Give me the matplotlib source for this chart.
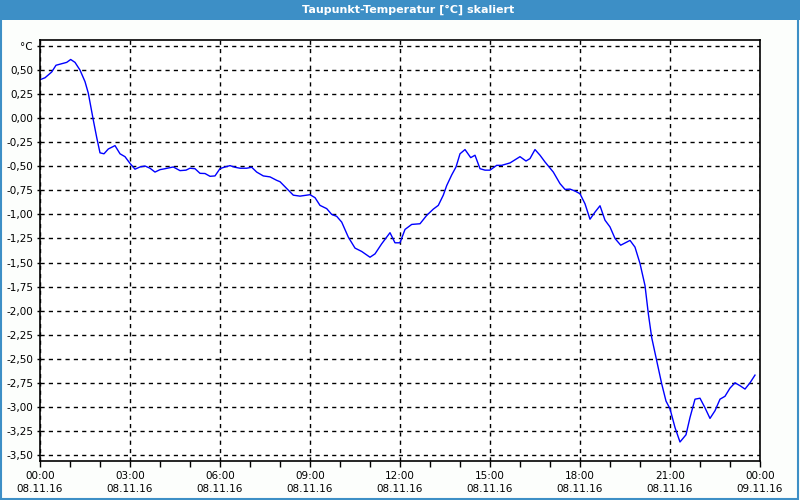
import matplotlib.pyplot as plt
import numpy as np
from matplotlib.patches import Rectangle

# hours since 08.11.16 00:00
hours = [0.0, 0.167, 0.39, 0.533, 0.777, 0.89, 1.023, 1.167, 1.333, 1.5, 1.61, 1.777,
         1.89, 2.0, 2.133, 2.277, 2.5, 2.667, 2.833, 3.0, 3.167, 3.333, 3.5, 3.667,
         3.833, 4.0, 4.167, 4.443, 4.667, 4.867, 5.0, 5.167, 5.333, 5.5, 5.667, 5.833,
         6.0, 6.167, 6.333, 6.5, 6.667, 6.89, 7.057, 7.223, 7.443, 7.667, 7.89, 8.0,
         8.223, 8.443, 8.667, 9.0, 9.167, 9.333, 9.557, 9.723, 9.89, 10.057, 10.277,
         10.5, 10.723, 11.0, 11.167, 11.39, 11.667, 11.833, 12.0, 12.167, 12.39, 12.667,
         12.89, 13.11, 13.277, 13.443, 13.557, 13.723, 13.867, 14.0, 14.167, 14.357,
         14.5, 14.667, 14.833, 15.0, 15.223, 15.39, 15.667, 16.0, 16.2, 16.333, 16.5,
         16.667, 16.833, 17.11, 17.333, 17.5, 17.667, 17.833, 18.0, 18.167, 18.333,
         18.5, 18.667, 18.833, 19.0, 19.167, 19.357, 19.667, 19.833, 20.0, 20.167,
         20.277, 20.39, 20.557, 20.723, 20.867, 21.0, 21.167, 21.333, 21.533, 21.667,
         21.833, 22.0, 22.167, 22.333, 22.5, 22.667, 22.833, 23.0, 23.167, 23.333,
         23.5, 23.667, 23.833]
dewpoint = [0.40, 0.42, 0.48, 0.55, 0.57, 0.58, 0.61, 0.58, 0.50, 0.38, 0.26, -0.02,
            -0.20, -0.36, -0.37, -0.32, -0.285, -0.37, -0.40, -0.47, -0.53, -0.507,
            -0.497, -0.52, -0.56, -0.535, -0.525, -0.507, -0.545, -0.54, -0.52, -0.525,
            -0.573, -0.575, -0.604, -0.60, -0.524, -0.507, -0.493, -0.51, -0.52, -0.52,
            -0.51, -0.56, -0.60, -0.61, -0.646, -0.66, -0.73, -0.80, -0.81, -0.795,
            -0.826, -0.906, -0.94, -1.00, -1.02, -1.08, -1.236, -1.35, -1.385, -1.445,
            -1.41, -1.305, -1.19, -1.295, -1.295, -1.156, -1.104, -1.097, -1.01, -0.945,
            -0.906, -0.80, -0.70, -0.59, -0.507, -0.37, -0.326, -0.41, -0.385, -0.525,
            -0.54, -0.54, -0.49, -0.49, -0.465, -0.40, -0.445, -0.42, -0.326, -0.385,
            -0.455, -0.56, -0.68, -0.74, -0.737, -0.757, -0.785, -0.89, -1.05, -0.976,
            -0.91, -1.06, -1.13, -1.25, -1.32, -1.27, -1.34, -1.51, -1.74, -2.03, -2.28,
            -2.52, -2.76, -2.94, -3.02, -3.215, -3.365, -3.29, -3.11, -2.92, -2.91,
            -3.01, -3.12, -3.04, -2.92, -2.89, -2.805, -2.75, -2.78, -2.815, -2.75, -2.67]

x_ticks = [0, 3, 6, 9, 12, 15, 18, 21, 24]
x_labels = ["00:00\n08.11.16", "03:00\n08.11.16", "06:00\n08.11.16", "09:00\n08.11.16",
            "12:00\n08.11.16", "15:00\n08.11.16", "18:00\n08.11.16", "21:00\n08.11.16",
            "00:00\n09.11.16"]
y_ticks = np.arange(-3.5, 0.76, 0.25)

blue_frame = "#3d8fc6"
fig = plt.figure(figsize=(8, 5), dpi=100, facecolor="#fcfefc")

# title bar and frame
fig.patches.append(Rectangle((0, 0.96), 1, 0.04, transform=fig.transFigure,
                             facecolor=blue_frame, edgecolor="none", zorder=0))
fig.patches.append(Rectangle((0.001, 0.003), 0.997, 0.996, transform=fig.transFigure,
                             facecolor="none", edgecolor=blue_frame, linewidth=1.5, zorder=1))
fig.text(0.51, 0.981, "Taupunkt-Temperatur [°C] skaliert", color="white",
         ha="center", va="center", fontsize=8, fontweight="bold")

ax = fig.add_axes([0.05, 0.078, 0.90, 0.842])
ax.set_facecolor("white")
ax.plot(hours, dewpoint, color="#0000ff", linewidth=1.0)

ax.set_xlim(0, 24)
ax.set_ylim(-3.5625, 0.8125)
ax.set_xticks(x_ticks)
ax.set_xticklabels(x_labels, fontsize=7.5, linespacing=1.45)
ax.set_xticks(range(0, 25), minor=True)
ax.set_yticks(y_ticks)
ylabels = [f"{v:.2f}".replace(".", ",").replace("-0,00", "0,00") for v in y_ticks]
ylabels[-1] = "°C"
ax.set_yticklabels(ylabels, fontsize=7.5)

ax.tick_params(axis="x", which="both", direction="out", length=4, width=1, pad=3)
ax.tick_params(axis="y", which="both", direction="out", length=2, width=1, pad=3)

ax.grid(True, which="major", color="black", linestyle=(0, (3, 3)), linewidth=1)
for s in ax.spines.values():
    s.set_linewidth(1.2)

fig.savefig("out.png", dpi=100, facecolor=fig.get_facecolor())
